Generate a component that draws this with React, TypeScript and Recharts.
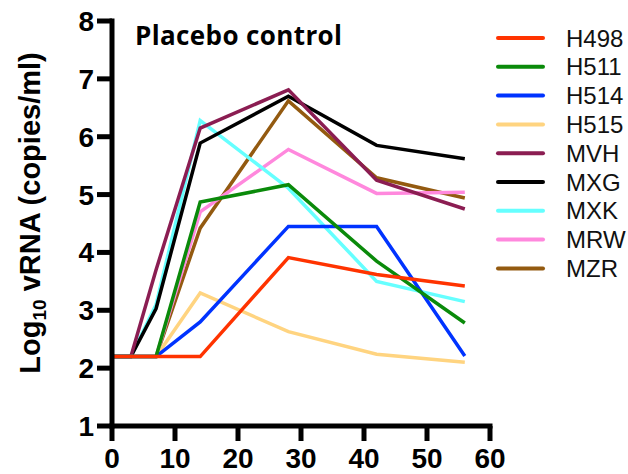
import { LineChart, Line, XAxis, YAxis } from 'recharts'

const days = [0, 3, 7, 14, 28, 42, 56]

const H498 = [2.2, 2.2, 2.2, 2.2, 3.91, 3.62, 3.42]
const H511 = [2.2, 2.2, 2.2, 4.87, 5.17, 3.85, 2.78]
const H514 = [2.2, 2.2, 2.2, 2.8, 4.45, 4.45, 2.21]
const H515 = [2.2, 2.2, 2.2, 3.3, 2.63, 2.24, 2.1]
const MVH = [2.2, 2.2, 3.7, 6.15, 6.81, 5.25, 4.75]
const MXG = [2.2, 2.2, 3.03, 5.89, 6.7, 5.85, 5.62]
const MXK = [2.2, 2.2, 3.1, 6.28, 5.11, 3.5, 3.15]
const MRW = [2.2, 2.2, 2.2, 4.7, 5.78, 5.02, 5.04]
const MZR = [2.2, 2.2, 2.2, 4.42, 6.62, 5.29, 4.94]

const xTicks = [0, 10, 20, 30, 40, 50, 60]
const yTicks = [1, 2, 3, 4, 5, 6, 7, 8]

const series = [
  { name: 'H498', values: H498, color: '#ff3300' },
  { name: 'H511', values: H511, color: '#0a8a0a' },
  { name: 'H514', values: H514, color: '#0033ff' },
  { name: 'H515', values: H515, color: '#ffd480' },
  { name: 'MVH', values: MVH, color: '#8b1d52' },
  { name: 'MXG', values: MXG, color: '#000000' },
  { name: 'MXK', values: MXK, color: '#66ffff' },
  { name: 'MRW', values: MRW, color: '#ff88dd' },
  { name: 'MZR', values: MZR, color: '#935a10' },
]

const data = days.map((day, i) => {
  const row: Record<string, number> = { day }
  series.forEach((s) => {
    row[s.name] = s.values[i]
  })
  return row
})

const tickStyle = {
  fill: '#000',
  fontSize: 28,
  fontWeight: 'bold' as const,
  fontFamily: '"Liberation Sans", Arial, sans-serif',
}
const axisStyle = { stroke: '#000', strokeWidth: 5, strokeLinecap: 'square' as const }

export default function App() {
  return (
    <div style={{ position: 'absolute', left: 0, top: 0, width: 628, height: 474, background: '#fff' }}>
      <LineChart
        width={628}
        height={474}
        data={data}
        margin={{ top: 21, right: 138, bottom: 47, left: 111 }}
      >
        <XAxis
          dataKey="day"
          type="number"
          domain={[0, 60]}
          ticks={xTicks}
          height={1}
          tick={tickStyle}
          tickSize={15}
          tickMargin={7}
          axisLine={axisStyle}
          tickLine={{ stroke: '#000', strokeWidth: 5 }}
          interval={0}
        />
        <YAxis
          type="number"
          domain={[1, 8]}
          ticks={yTicks}
          width={1}
          tick={tickStyle}
          tickSize={15}
          tickMargin={3}
          axisLine={axisStyle}
          tickLine={{ stroke: '#000', strokeWidth: 5 }}
          interval={0}
        />
        {[...series].reverse().map((s) => (
          <Line
            key={s.name}
            type="linear"
            dataKey={s.name}
            stroke={s.color}
            strokeWidth={3.5}
            dot={false}
            isAnimationActive={false}
          />
        ))}
      </LineChart>
      <svg
        width={628}
        height={474}
        style={{ position: 'absolute', left: 0, top: 0, pointerEvents: 'none' }}
      >
        <text
          x={135}
          y={45}
          fontFamily="'Open Sans', Lato, sans-serif"
          fontWeight="bold"
          fontSize={26}
          textLength={207}
          fill="#000"
        >
          Placebo control
        </text>
        <text
          transform="translate(40, 213) rotate(-90)"
          textAnchor="middle"
          fontFamily="'Liberation Sans', Arial, sans-serif"
          fontWeight="bold"
          fontSize={29}
          fill="#000"
        >
          Log
          <tspan fontSize={19} dy={6}>10</tspan>
          <tspan dy={-6}> vRNA (copies/ml)</tspan>
        </text>
        {series.map((s, i) => {
          const y = 38 + i * 28.8
          return (
            <g key={s.name}>
              <line x1={498} x2={543} y1={y} y2={y} stroke={s.color} strokeWidth={4} strokeLinecap="round" />
              <text
                x={566}
                y={y + 8.5}
                fontFamily="'Liberation Sans', Arial, sans-serif"
                fontSize={24}
                fill="#111"
              >
                {s.name}
              </text>
            </g>
          )
        })}
      </svg>
    </div>
  )
}
